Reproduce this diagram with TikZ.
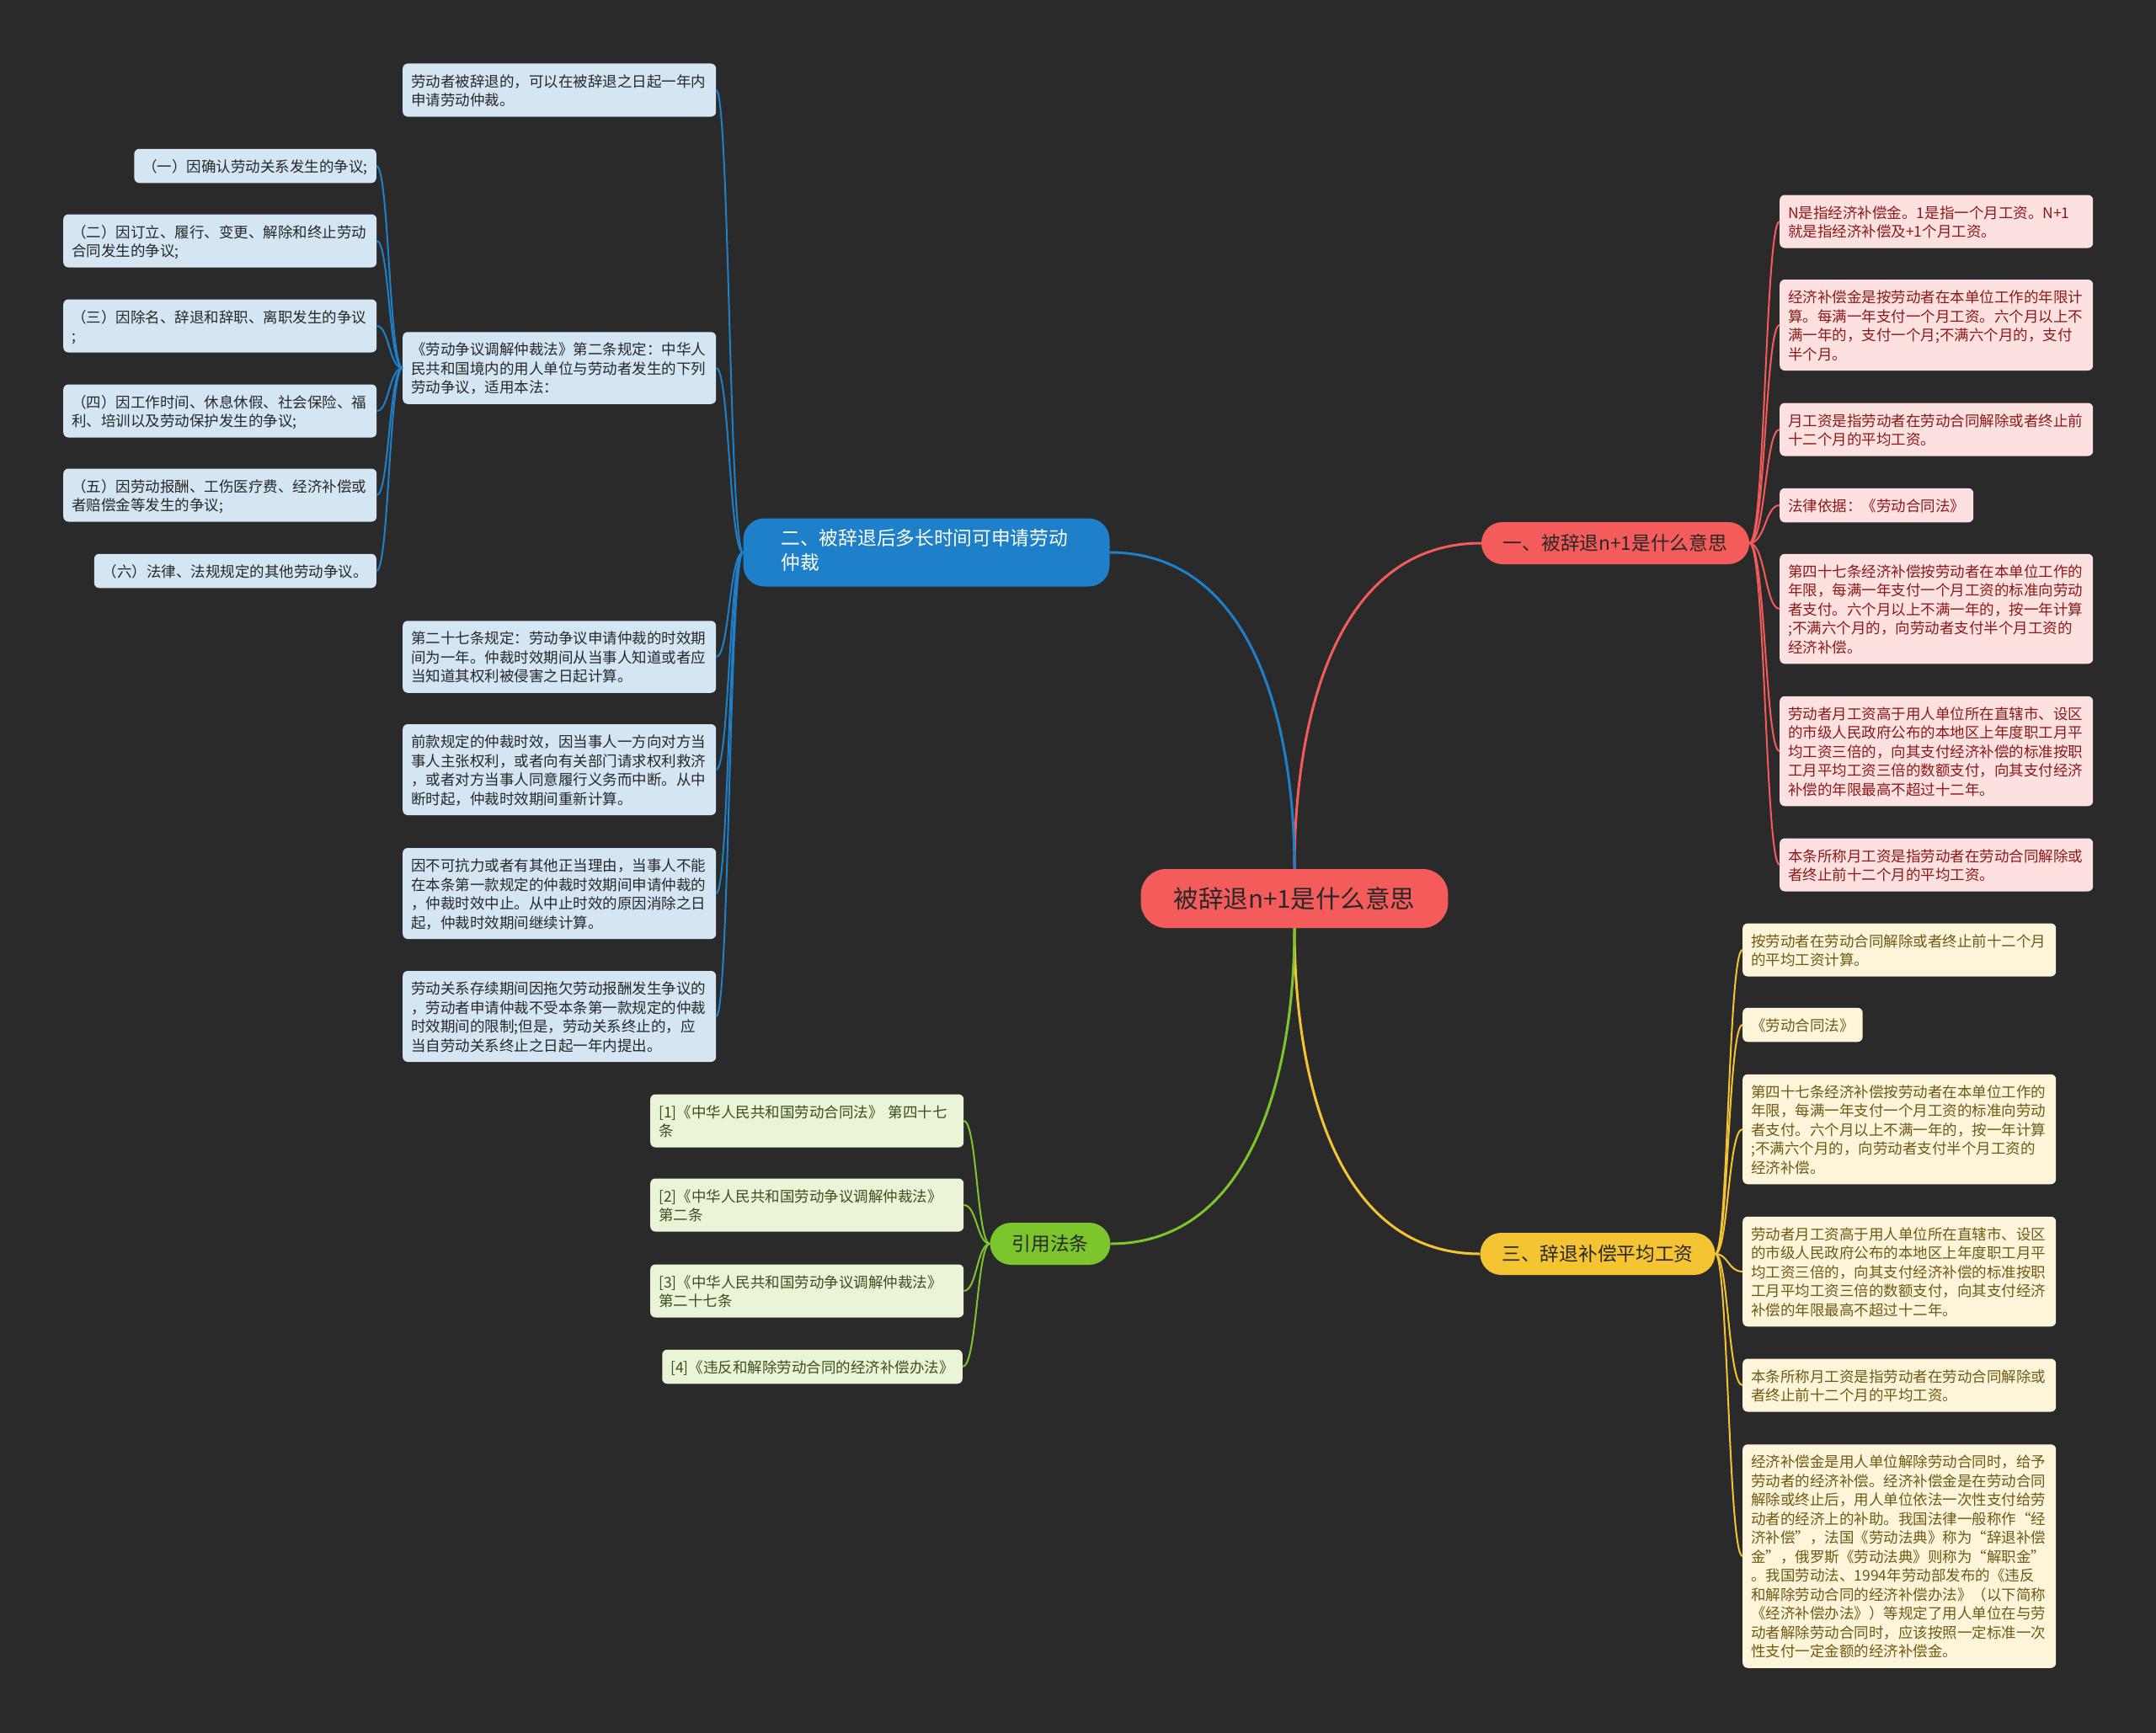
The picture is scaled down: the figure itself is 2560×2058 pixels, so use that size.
\documentclass[tikz,border=0pt]{standalone}
\usepackage{fontspec}
\newfontfamily\cjk{Noto Sans CJK SC}
\newcommand\leafstrut{\rule[-4pt]{0pt}{22.5pt}}

\definecolor{bgdark}{RGB}{42,42,42}
\definecolor{rootred}{RGB}{244,91,91}
\definecolor{blueline}{RGB}{30,128,201}
\definecolor{yellowline}{RGB}{245,196,51}
\definecolor{greenline}{RGB}{124,197,45}
\definecolor{blueleaf}{RGB}{212,230,243}
\definecolor{redleaf}{RGB}{253,224,224}
\definecolor{yellowleaf}{RGB}{253,245,218}
\definecolor{greenleaf}{RGB}{234,244,214}
\definecolor{redtext}{RGB}{140,25,25}
\definecolor{yellowtext}{RGB}{110,90,20}
\definecolor{greentext}{RGB}{60,80,30}
\definecolor{darktext}{RGB}{40,40,40}

\tikzset{
  leaf/.style={rounded corners=6pt, inner xsep=10pt, inner ysep=9pt, align=left,
    font=\cjk\fontsize{17.5}{22.5}\selectfont,
    execute at begin node=\leafstrut, execute at end node=\leafstrut},
  wideleaf/.style={leaf, text width=352pt},
  bluebox/.style={fill=blueleaf, text=darktext},
  redbox/.style={fill=redleaf, text=redtext},
  yellowbox/.style={fill=yellowleaf, text=yellowtext},
  greenbox/.style={fill=greenleaf, text=greentext},
  branch/.style={rounded corners=25pt, font=\cjk\fontsize{22.7}{29}\selectfont,
    inner xsep=26pt, inner ysep=0pt, minimum height=50pt, text=darktext},
  twig/.style={line width=2pt},
  limb/.style={line width=3pt}
}

\begin{document}
\begin{tikzpicture}[x=1pt, y=-1pt]
\fill[bgdark] (0,0) rectangle (2560,2058);
\useasboundingbox (0,0) rectangle (2560,2058);

\node[rounded corners=30pt, fill=rootred, text=darktext, font=\cjk\fontsize{29.5}{34}\selectfont,
  inner xsep=39pt, minimum height=70pt] (root) at (1537,1067) {被辞退n+1是什么意思};

\node[branch, fill=rootred] (red) at (1918,645) {一、被辞退n+1是什么意思};
\node[branch, fill=blueline, text=white, align=left, text width=345pt, inner xsep=45pt, inner ysep=11.5pt,
  execute at begin node=\strut, execute at end node=\strut] (blue) at (1100,656)
  {二、被辞退后多长时间可申请劳动\\仲裁};
\node[branch, fill=yellowline] (yellow) at (1897,1489) {三、辞退补偿平均工资};
\node[branch, fill=greenline] (green) at (1247,1477) {引用法条};

\node[wideleaf, bluebox, anchor=west] (b1) at (478,107) {劳动者被辞退的，可以在被辞退之日起一年内\\申请劳动仲裁。};
\node[wideleaf, bluebox, anchor=west] (b2) at (478,437) {《劳动争议调解仲裁法》第二条规定：中华人\\民共和国境内的用人单位与劳动者发生的下列\\劳动争议，适用本法：};
\node[wideleaf, bluebox, anchor=west] (b3) at (478,780) {第二十七条规定：劳动争议申请仲裁的时效期\\间为一年。仲裁时效期间从当事人知道或者应\\当知道其权利被侵害之日起计算。};
\node[wideleaf, bluebox, anchor=west] (b4) at (478,914) {前款规定的仲裁时效，因当事人一方向对方当\\事人主张权利，或者向有关部门请求权利救济\\，或者对方当事人同意履行义务而中断。从中\\断时起，仲裁时效期间重新计算。};
\node[wideleaf, bluebox, anchor=west] (b5) at (478,1061) {因不可抗力或者有其他正当理由，当事人不能\\在本条第一款规定的仲裁时效期间申请仲裁的\\，仲裁时效中止。从中止时效的原因消除之日\\起，仲裁时效期间继续计算。};
\node[wideleaf, bluebox, anchor=west] (b6) at (478,1207) {劳动关系存续期间因拖欠劳动报酬发生争议的\\，劳动者申请仲裁不受本条第一款规定的仲裁\\时效期间的限制;但是，劳动关系终止的，应\\当自劳动关系终止之日起一年内提出。};

\node[leaf, bluebox, anchor=east] (c1) at (447,197) {（一）因确认劳动关系发生的争议;};
\node[wideleaf, bluebox, anchor=west] (c2) at (75,286) {（二）因订立、履行、变更、解除和终止劳动\\合同发生的争议;};
\node[wideleaf, bluebox, anchor=west] (c3) at (75,387) {（三）因除名、辞退和辞职、离职发生的争议\\;};
\node[wideleaf, bluebox, anchor=west] (c4) at (75,488) {（四）因工作时间、休息休假、社会保险、福\\利、培训以及劳动保护发生的争议;};
\node[wideleaf, bluebox, anchor=west] (c5) at (75,588) {（五）因劳动报酬、工伤医疗费、经济补偿或\\者赔偿金等发生的争议;};
\node[leaf, bluebox, anchor=east] (c6) at (447,678) {（六）法律、法规规定的其他劳动争议。};

\node[wideleaf, redbox, anchor=west] (r1) at (2113,263) {N是指经济补偿金。1是指一个月工资。N+1\\就是指经济补偿及+1个月工资。};
\node[wideleaf, redbox, anchor=west] (r2) at (2113,386) {经济补偿金是按劳动者在本单位工作的年限计\\算。每满一年支付一个月工资。六个月以上不\\满一年的，支付一个月;不满六个月的，支付\\半个月。};
\node[wideleaf, redbox, anchor=west] (r3) at (2113,510) {月工资是指劳动者在劳动合同解除或者终止前\\十二个月的平均工资。};
\node[leaf, redbox, anchor=west] (r4) at (2113,600) {法律依据：《劳动合同法》};
\node[wideleaf, redbox, anchor=west] (r5) at (2113,723) {第四十七条经济补偿按劳动者在本单位工作的\\年限，每满一年支付一个月工资的标准向劳动\\者支付。六个月以上不满一年的，按一年计算\\;不满六个月的，向劳动者支付半个月工资的\\经济补偿。};
\node[wideleaf, redbox, anchor=west] (r6) at (2113,892) {劳动者月工资高于用人单位所在直辖市、设区\\的市级人民政府公布的本地区上年度职工月平\\均工资三倍的，向其支付经济补偿的标准按职\\工月平均工资三倍的数额支付，向其支付经济\\补偿的年限最高不超过十二年。};
\node[wideleaf, redbox, anchor=west] (r7) at (2113,1027) {本条所称月工资是指劳动者在劳动合同解除或\\者终止前十二个月的平均工资。};

\node[wideleaf, yellowbox, anchor=west] (y1) at (2069,1128) {按劳动者在劳动合同解除或者终止前十二个月\\的平均工资计算。};
\node[leaf, yellowbox, anchor=west] (y2) at (2069,1217) {《劳动合同法》};
\node[wideleaf, yellowbox, anchor=west] (y3) at (2069,1341) {第四十七条经济补偿按劳动者在本单位工作的\\年限，每满一年支付一个月工资的标准向劳动\\者支付。六个月以上不满一年的，按一年计算\\;不满六个月的，向劳动者支付半个月工资的\\经济补偿。};
\node[wideleaf, yellowbox, anchor=west] (y4) at (2069,1510) {劳动者月工资高于用人单位所在直辖市、设区\\的市级人民政府公布的本地区上年度职工月平\\均工资三倍的，向其支付经济补偿的标准按职\\工月平均工资三倍的数额支付，向其支付经济\\补偿的年限最高不超过十二年。};
\node[wideleaf, yellowbox, anchor=west] (y5) at (2069,1645) {本条所称月工资是指劳动者在劳动合同解除或\\者终止前十二个月的平均工资。};
\node[wideleaf, yellowbox, anchor=west] (y6) at (2069,1848) {经济补偿金是用人单位解除劳动合同时，给予\\劳动者的经济补偿。经济补偿金是在劳动合同\\解除或终止后，用人单位依法一次性支付给劳\\动者的经济上的补助。我国法律一般称作“经\\济补偿”，法国《劳动法典》称为“辞退补偿\\金”，俄罗斯《劳动法典》则称为“解职金”\\。我国劳动法、1994年劳动部发布的《违反\\和解除劳动合同的经济补偿办法》（以下简称\\《经济补偿办法》）等规定了用人单位在与劳\\动者解除劳动合同时，应该按照一定标准一次\\性支付一定金额的经济补偿金。};

\node[wideleaf, greenbox, anchor=west] (g1) at (772,1331) {[1]《中华人民共和国劳动合同法》 第四十七\\条};
\node[wideleaf, greenbox, anchor=west] (g2) at (772,1431) {[2]《中华人民共和国劳动争议调解仲裁法》\\第二条};
\node[wideleaf, greenbox, anchor=west] (g3) at (772,1533) {[3]《中华人民共和国劳动争议调解仲裁法》\\第二十七条};
\node[leaf, greenbox, anchor=east] (g4) at (1143,1623) {[4]《违反和解除劳动合同的经济补偿办法》};

\coordinate (bluetrunk) at (866,0);
\coordinate (subtrunk) at (462,0);
\coordinate (redtrunk) at (2096,0);
\coordinate (yellowtrunk) at (2052,0);
\coordinate (greentrunk) at (1160,0);

\draw[limb, rootred] (root.north) to[out=90, in=180] (red.west);
\draw[limb, blueline] (root.north) to[out=90, in=0] (blue.east);
\draw[limb, yellowline] (root.south) to[out=-90, in=180] (yellow.west);
\draw[limb, greenline] (root.south) to[out=-90, in=0] (green.east);

\foreach \leaf in {b1,b2,b3,b4,b5,b6}
  \draw[twig, blueline] (blue.west) .. controls (blue.west -| bluetrunk) and (\leaf.east -| bluetrunk) .. (\leaf.east);
\foreach \leaf in {c1,c2,c3,c4,c5,c6}
  \draw[twig, blueline] (b2.west) .. controls (b2.west -| subtrunk) and (\leaf.east -| subtrunk) .. (\leaf.east);
\foreach \leaf in {r1,r2,r3,r4,r5,r6,r7}
  \draw[twig, rootred] (red.east) .. controls (red.east -| redtrunk) and (\leaf.west -| redtrunk) .. (\leaf.west);
\foreach \leaf in {y1,y2,y3,y4,y5,y6}
  \draw[twig, yellowline] (yellow.east) .. controls (yellow.east -| yellowtrunk) and (\leaf.west -| yellowtrunk) .. (\leaf.west);
\foreach \leaf in {g1,g2,g3,g4}
  \draw[twig, greenline] (green.west) .. controls (green.west -| greentrunk) and (\leaf.east -| greentrunk) .. (\leaf.east);
\end{tikzpicture}
\end{document}
